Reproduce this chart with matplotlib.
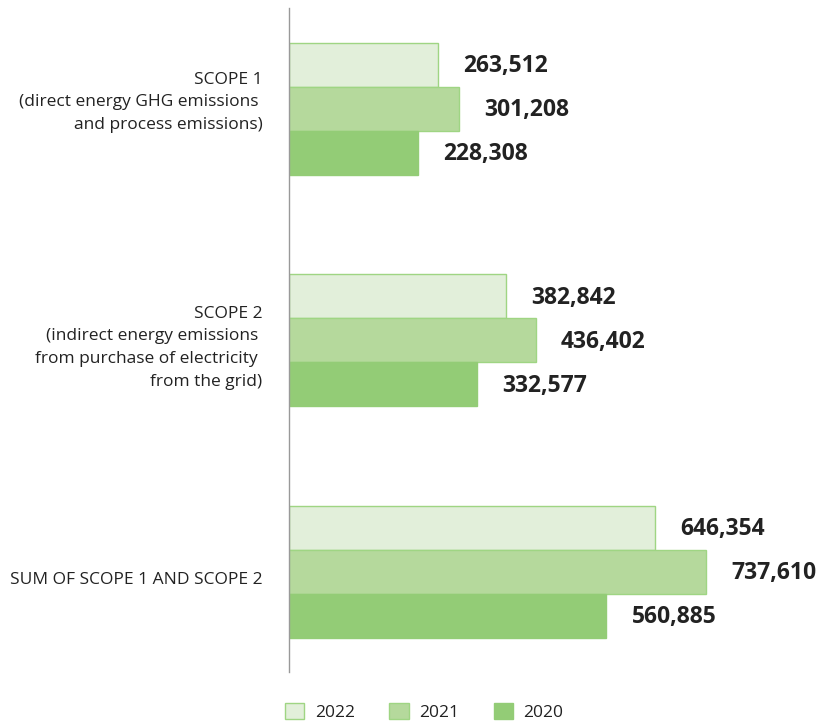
import matplotlib
matplotlib.use("Agg")
import matplotlib.pyplot as plt
import matplotlib.transforms as mtransforms
import numpy as np
from matplotlib.patches import Patch

categories = ["SCOPE 1\n(direct energy GHG emissions \nand process emissions)",
              "SCOPE 2\n(indirect energy emissions \nfrom purchase of electricity \nfrom the grid)",
              "SUM OF SCOPE 1 AND SCOPE 2"]
years = ["2022", "2021", "2020"]
v2022 = [263512, 382842, 646354]
v2021 = [301208, 436402, 737610]
v2020 = [228308, 332577, 560885]
series = [v2022, v2021, v2020]

fills = ["#e2efda", "#b5d99c", "#93cc76"]
edges = ["#9fd583", "#9fd583", "#93cc76"]

plt.rcParams['font.family'] = ['Open Sans', 'DejaVu Sans']

fig = plt.figure(figsize=(8.19, 7.27), dpi=100)
ax = fig.add_axes([289/819, 1-672/727, 1-289/819, (672-8)/727])

y = np.arange(len(categories))
h = 0.19
offsets = [-h, 0, h]
for vals, off, fc, ec, yr in zip(series, offsets, fills, edges, years):
    ax.barh(y + off, vals, height=h, color=fc, edgecolor=ec, linewidth=1.0, label=yr)
    for yi, v in zip(y, vals):
        ax.annotate(f"{v:,}", xy=(v, yi + off), xytext=(18, -1), textcoords="offset points",
                    ha="left", va="center", fontsize=16.5, fontweight="bold", color="#222222")

ax.set_xlim(0, 530 / 5.66e-4)
ax.set_ylim(2.432, -0.436)
ax.set_yticks(y)
ax.set_yticklabels(categories, fontsize=12.5, color="#222222", linespacing=1.55, ha="right")
ax.tick_params(axis="y", length=0, pad=19)
label_shift_px = [-12, 2, 6]
for lab, dy in zip(ax.get_yticklabels(), label_shift_px):
    lab.set_transform(lab.get_transform() + mtransforms.ScaledTranslation(0, -dy / 100, fig.dpi_scale_trans))
ax.set_xticks([])
for s in ["top", "right", "bottom"]:
    ax.spines[s].set_visible(False)
ax.spines["left"].set_color("#999999")
ax.spines["left"].set_linewidth(1.0)

handles = [Patch(facecolor=fc, edgecolor="#9fd583" if i < 2 else "#93cc76", label=yr)
           for i, (fc, yr) in enumerate(zip(fills, years))]
fig.legend(handles=handles, loc="center", bbox_to_anchor=(0.518, 0.021), ncol=3, frameon=False,
           fontsize=12.5, handlelength=1.1, handleheight=1.1, columnspacing=2.0, handletextpad=0.6,
           labelcolor="#222222")

fig.savefig("out.png", dpi=100)
